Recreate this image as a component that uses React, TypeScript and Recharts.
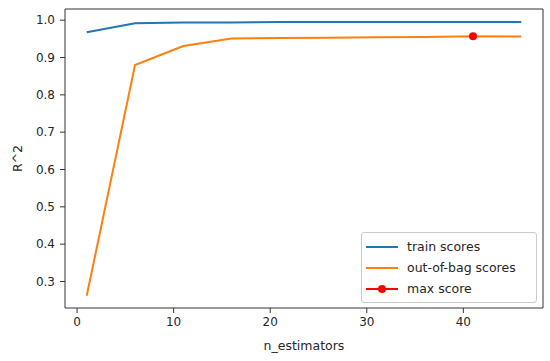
import {
	ComposedChart,
	Line,
	XAxis,
	YAxis,
	Legend,
	Label,
	ReferenceLine,
} from "recharts";

const nEstimators = [1, 6, 11, 16, 21, 26, 31, 36, 41, 46];
const trainScores = [0.968, 0.992, 0.994, 0.994, 0.995, 0.995, 0.995, 0.995, 0.995, 0.995];
const oobScores = [0.262, 0.880, 0.931, 0.951, 0.952, 0.953, 0.954, 0.955, 0.957, 0.956];
const xTicks = [0, 10, 20, 30, 40];
const yTicks = [0.3, 0.4, 0.5, 0.6, 0.7, 0.8, 0.9, 1.0];

const legendItems = [
	{ name: "train scores", color: "#1f77b4", marker: false },
	{ name: "out-of-bag scores", color: "#ff7f0e", marker: false },
	{ name: "max score", color: "#ff0000", marker: true },
];

const maxIdx = oobScores.indexOf(Math.max(...oobScores));

const data = nEstimators.map((n, i) => ({
	n,
	train: trainScores[i],
	oob: oobScores[i],
	max: i === maxIdx ? oobScores[i] : null,
}));

const X_DOMAIN = [-1.25, 48.25];
const Y_DOMAIN = [0.229, 1.03];
const FONT = "'DejaVu Sans', sans-serif";
const AXIS = "#333333";
const TEXT = "#262626";

function LegendBox() {
	return (
		<div
			style={{
				border: "1px solid #cccccc",
				borderRadius: 3,
				background: "rgba(255,255,255,0.8)",
				padding: "3px 6px 3px 3px",
				fontFamily: FONT,
				fontSize: 12.5,
				color: TEXT,
			}}
		>
			{legendItems.map((item) => (
				<div
					key={item.name}
					style={{ display: "flex", alignItems: "center", height: 21 }}
				>
					<svg width={42} height={12}>
						<line x1={1} y1={6} x2={33} y2={6} stroke={item.color} strokeWidth={2} />
						{item.marker && <circle cx={17} cy={6} r={4} fill={item.color} />}
					</svg>
					<span>{item.name}</span>
				</div>
			))}
		</div>
	);
}

export default function App() {
	return (
		<div style={{ position: "absolute", left: 0, top: 0, background: "#fff" }}>
			<ComposedChart
				width={550}
				height={361}
				data={data}
				margin={{ top: 9, right: 7, left: 0, bottom: 0 }}
			>
				<XAxis
					dataKey="n"
					type="number"
					domain={X_DOMAIN}
					ticks={xTicks}
					height={53}
					stroke={AXIS}
					tickSize={5}
					tickMargin={4}
					tick={{ fill: TEXT, fontSize: 12, fontFamily: FONT }}
				>
					<Label
						content={({ viewBox }: any) => (
							<text
								x={viewBox.x + viewBox.width / 2}
								y={viewBox.y + 37}
								textAnchor="middle"
								dominantBaseline="central"
								fill={TEXT}
								fontSize={12.5}
								fontFamily={FONT}
							>
								n_estimators
							</text>
						)}
					/>
				</XAxis>
				<YAxis
					type="number"
					domain={Y_DOMAIN}
					ticks={yTicks}
					width={65}
					stroke={AXIS}
					tickSize={5}
					tickMargin={5}
					tickFormatter={(v: number) => v.toFixed(1)}
					tick={{ fill: TEXT, fontSize: 12, fontFamily: FONT }}
				>
					<Label
						content={({ viewBox }: any) => {
							const cx = viewBox.x + 17;
							const cy = viewBox.y + viewBox.height / 2;
							return (
								<text
									x={cx}
									y={cy}
									transform={`rotate(-90 ${cx} ${cy})`}
									textAnchor="middle"
									dominantBaseline="central"
									fill={TEXT}
									fontSize={12.5}
									fontFamily={FONT}
								>
									R^2
								</text>
							);
						}}
					/>
				</YAxis>
				{/* top and right spines */}
				<ReferenceLine y={Y_DOMAIN[1]} stroke={AXIS} />
				<ReferenceLine x={X_DOMAIN[1]} stroke={AXIS} />
				<Legend
					layout="vertical"
					align="center"
					verticalAlign="middle"
					content={() => <LegendBox />}
					wrapperStyle={{ position: "absolute", left: 361, top: 232, width: 176 }}
				/>
				<Line
					dataKey="train"
					stroke="#1f77b4"
					strokeWidth={2}
					dot={false}
					isAnimationActive={false}
				/>
				<Line
					dataKey="oob"
					stroke="#ff7f0e"
					strokeWidth={2}
					dot={false}
					isAnimationActive={false}
				/>
				<Line
					dataKey="max"
					stroke="#ff0000"
					strokeWidth={2}
					dot={{ r: 4, fill: "#ff0000", stroke: "#ff0000", strokeWidth: 0 }}
					isAnimationActive={false}
				/>
			</ComposedChart>
		</div>
	);
}
